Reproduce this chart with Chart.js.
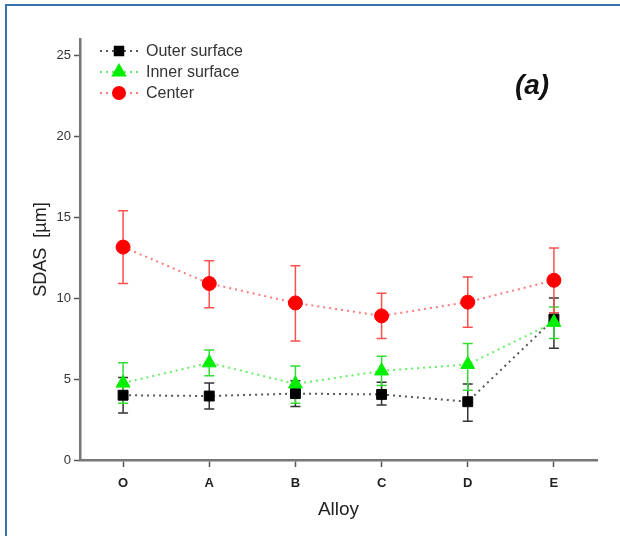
<!DOCTYPE html>
<html>
<head>
<meta charset="utf-8">
<script src="https://cdn.jsdelivr.net/npm/chart.js@4/dist/chart.umd.min.js"></script>
<style>
  html, body { margin: 0; padding: 0; background: #fff; }
  #wrap { position: relative; width: 620px; height: 536px; }
  #frame { position: absolute; left: 5px; top: 4px; right: 0; bottom: 0;
           border-top: 2px solid #3a72ab; border-left: 2px solid #3a72ab; pointer-events: none; }
</style>
</head>
<body>
<div id="wrap">
  <canvas id="chart"></canvas>
  <div id="frame"></div>
</div>
<script>
const alloys = ['O', 'A', 'B', 'C', 'D', 'E'];

const outerMean = [4.0, 3.95, 4.1, 4.05, 3.6, 8.7];
const outerLow  = [2.9, 3.15, 3.3, 3.4, 2.4, 6.9];
const outerHigh = [5.1, 4.75, 4.9, 4.8, 4.7, 10.0];

const innerMean = [4.75, 6.0, 4.7, 5.5, 5.9, 8.5];
const innerLow  = [3.5, 5.2, 3.5, 4.6, 4.3, 7.5];
const innerHigh = [6.0, 6.8, 5.8, 6.4, 7.2, 9.45];

const centerMean = [13.15, 10.9, 9.7, 8.9, 9.75, 11.1];
const centerLow  = [10.9, 9.4, 7.35, 7.5, 8.2, 9.1];
const centerHigh = [15.4, 12.3, 12.0, 10.3, 11.3, 13.1];

const yTicks = [0, 5, 10, 15, 20, 25];

const series = [
  { label: 'Outer surface', mean: outerMean, low: outerLow, high: outerHigh,
    point: '#000', line: 'rgba(60,60,60,0.85)', bar: '#333', style: 'rect', r: 7, lr: 6 },
  { label: 'Inner surface', mean: innerMean, low: innerLow, high: innerHigh,
    point: '#00ee00', line: '#66ee66', bar: '#33dd33', style: 'triangle', r: 8, lr: 7 },
  { label: 'Center', mean: centerMean, low: centerLow, high: centerHigh,
    point: '#ff0000', line: '#ff7a7a', bar: '#ff5050', style: 'circle', r: 7, lr: 6 },
];

const drawOrder = { 'Outer surface': 1, 'Inner surface': 0, 'Center': 2 };

// error bars, legend and panel label
const extras = {
  id: 'extras',
  beforeDatasetsDraw(chart) {
    const { ctx, scales: { y } } = chart;
    chart.data.datasets.forEach((ds, i) => {
      const s = series[i];
      const meta = chart.getDatasetMeta(i);
      ctx.save();
      ctx.strokeStyle = s.bar;
      ctx.lineWidth = 1.5;
      meta.data.forEach((pt, j) => {
        const yl = y.getPixelForValue(s.low[j]);
        const yh = y.getPixelForValue(s.high[j]);
        ctx.beginPath();
        ctx.moveTo(pt.x, yl); ctx.lineTo(pt.x, yh);
        ctx.moveTo(pt.x - 5, yl); ctx.lineTo(pt.x + 5, yl);
        ctx.moveTo(pt.x - 5, yh); ctx.lineTo(pt.x + 5, yh);
        ctx.stroke();
      });
      ctx.restore();
    });
  },
  afterDraw(chart) {
    const { ctx } = chart;
    ctx.save();
    series.forEach((s, i) => {
      const ly = 51 + i * 21;
      ctx.strokeStyle = s.line;
      ctx.lineWidth = 2;
      ctx.setLineDash([2, 4]);
      ctx.beginPath();
      ctx.moveTo(100, ly); ctx.lineTo(141, ly);
      ctx.stroke();
      ctx.setLineDash([]);
      ctx.fillStyle = s.point;
      ctx.strokeStyle = s.point;
      Chart.helpers.drawPoint(ctx, { pointStyle: s.style, radius: s.lr, borderWidth: 1 }, 119, ly);
      ctx.fillStyle = '#333';
      ctx.font = '16px "Liberation Sans", Arial, sans-serif';
      ctx.textBaseline = 'middle';
      ctx.fillText(s.label, 146, ly + 1);
    });
    ctx.fillStyle = '#111';
    ctx.font = 'italic bold 28px "Liberation Sans", Arial, sans-serif';
    ctx.textAlign = 'center';
    ctx.textBaseline = 'middle';
    ctx.fillText('(a)', 532, 86);
    ctx.restore();
  }
};

new Chart(document.getElementById('chart'), {
  type: 'line',
  data: {
    labels: alloys,
    datasets: series.map(s => ({
      label: s.label,
      data: s.mean,
      borderColor: s.line,
      borderWidth: 2,
      borderDash: [2, 4],
      pointStyle: s.style,
      pointRadius: s.r,
      pointBackgroundColor: s.point,
      pointBorderColor: s.point,
      pointBorderWidth: 1,
      tension: 0,
      order: drawOrder[s.label],
    })),
  },
  options: {
    responsive: true,
    maintainAspectRatio: false,
    animation: false,
    layout: { padding: { top: 39, right: 23, left: 0, bottom: 0 } },
    plugins: {
      legend: { display: false },
      tooltip: { enabled: false },
    },
    scales: {
      x: {
        offset: true,
        grid: { drawOnChartArea: false, offset: false, color: '#555', tickLength: 7, tickWidth: 1.5 },
        border: { color: '#777', width: 2.5 },
        ticks: { color: '#222', padding: 9, font: { family: '"Liberation Sans", Arial', size: 13, weight: 'bold' } },
        title: { display: true, text: 'Alloy', color: '#222', padding: { bottom: 15 },
                 font: { family: '"Liberation Sans", Arial', size: 19 } },
        afterFit(scale) { scale.height = 76; },
      },
      y: {
        min: 0,
        max: 26,
        afterBuildTicks(scale) { scale.ticks = yTicks.map(v => ({ value: v })); },
        grid: { drawOnChartArea: false, color: '#555', tickLength: 6, tickWidth: 1.5 },
        border: { color: '#777', width: 2.5 },
        ticks: { color: '#333', padding: 3, font: { family: '"Liberation Sans", Arial', size: 13 } },
        title: { display: true, text: 'SDAS  [\u00b5m]', color: '#222', padding: { top: 30 },
                 font: { family: '"Liberation Sans", Arial', size: 18 } },
        afterFit(scale) { scale.width = 80; },
      },
    },
  },
  plugins: [extras],
});
</script>
</body>
</html>
